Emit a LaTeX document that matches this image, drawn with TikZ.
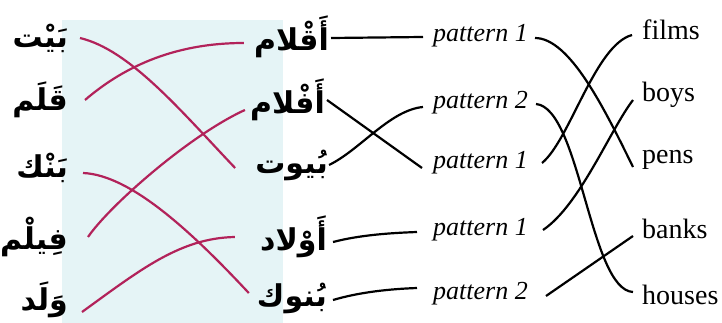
\documentclass[tikz,border=0pt]{standalone}
\usepackage{fontspec}
\setmainfont{Liberation Serif}
\newfontfamily\arabicfont[Script=Arabic]{DejaVu Sans}
\TeXXeTstate=1
\usetikzlibrary{calc}
\definecolor{bgblue}{RGB}{229,244,246}
\definecolor{wine}{RGB}{178,34,90}
\tikzset{
  ar/.style={inner sep=0pt, font=\arabicfont\bfseries\fontsize{30}{36}\selectfont},
  pat/.style={inner sep=0pt, anchor=mid west, font=\itshape\fontsize{26}{30}\selectfont},
  eng/.style={inner sep=0pt, anchor=mid west, font=\fontsize{28}{32}\selectfont},
  redline/.style={draw=wine, line width=2.2pt},
  blkline/.style={draw=black, line width=2.2pt},
}
\begin{document}
\begin{tikzpicture}[x=1pt,y=-1pt]
\useasboundingbox (0,0) rectangle (722,323);
\fill[bgblue] (62,20) rectangle (283,323);
% left Arabic
\node[ar, anchor=east] (L1) at (68,38) {\beginR بَيْت\endR};
\node[ar, anchor=east] (L2) at (68,100) {\beginR قَلَم\endR};
\node[ar, anchor=east] (L3) at (68,168) {\beginR بَنْك\endR};
\node[ar, anchor=east] (L4) at (68,237) {\beginR فِيلْم\endR};
\node[ar, anchor=east] (L5) at (68,300) {\beginR وَلَد\endR};
% right Arabic
\node[ar, anchor=east] (R1) at (329,37) {\beginR أَقْلام\endR};
\node[ar, anchor=east] (R2) at (325,100) {\beginR أَفْلام\endR};
\node[ar, anchor=east] (R3) at (328,165) {\beginR بُيوت\endR};
\node[ar, anchor=east] (R4) at (327,237) {\beginR أَوْلاد\endR};
\node[ar, anchor=east] (R5) at (327,298) {\beginR بُنوك\endR};
% patterns
\node[pat] (P1) at (433,39) {pattern 1};
\node[pat] (P2) at (433,106) {pattern 2};
\node[pat] (P3) at (433,166) {pattern 1};
\node[pat] (P4) at (433,233) {pattern 1};
\node[pat] (P5) at (433,297) {pattern 2};
% English
\node[eng] (E1) at (642,37) {films};
\node[eng] (E2) at (642,99) {boys};
\node[eng] (E3) at (642,161) {pens};
\node[eng] (E4) at (642,236) {banks};
\node[eng] (E5) at (642,302) {houses};
% red connectors
\draw[redline] ($(L1.east)+(12,0)$) .. controls (130,50) and (180,110) .. ($(R3.west)+(-20,3)$);
\draw[redline] ($(L2.east)+(17,0)$) .. controls (120,70) and (170,43) .. ($(R1.west)+(-10,6)$);
\draw[redline] ($(L3.east)+(15,5)$) .. controls (130,175) and (190,230) .. ($(R5.west)+(-8,-5)$);
\draw[redline] ($(L4.east)+(20,0)$) .. controls (110,205) and (190,135) .. ($(R2.west)+(-5,10)$);
\draw[redline] ($(L5.east)+(14,12)$) .. controls (140,270) and (180,238) .. ($(R4.west)+(-25,0)$);
% black connectors, Arabic to patterns
\draw[blkline] ($(R1.east)+(2,1)$) -- ($(P1.mid west)+(-10,-2)$);
\draw[blkline] ($(R2.east)+(2,0)$) -- ($(P3.mid west)+(-11,2)$);
\draw[blkline] ($(R3.east)+(1,0)$) .. controls (360,150) and (390,110) .. ($(P2.mid west)+(-10,1)$);
\draw[blkline] ($(R4.east)+(6,5)$) .. controls (360,235) and (390,233) .. ($(P4.mid west)+(-16,-1)$);
\draw[blkline] ($(R5.east)+(6,2)$) .. controls (360,292) and (390,289) .. ($(P5.mid west)+(-16,-9)$);
% black connectors, patterns to English
\draw[blkline] ($(P1.mid east)+(7,-1)$) .. controls (570,38) and (605,110) .. ($(E3.mid west)+(-9,6)$);
\draw[blkline] ($(P2.mid east)+(8,-2)$) .. controls (580,108) and (590,290) .. ($(E5.mid west)+(-9,-10)$);
\draw[blkline] ($(P3.mid east)+(14,-3)$) .. controls (570,140) and (595,45) .. ($(E1.mid west)+(-10,-2)$);
\draw[blkline] ($(P4.mid east)+(15,-3)$) .. controls (580,205) and (610,130) .. ($(E2.mid west)+(-9,1)$);
\draw[blkline] ($(P5.mid east)+(18,-1)$) -- ($(E4.mid west)+(-9,0)$);
\end{tikzpicture}
\end{document}
